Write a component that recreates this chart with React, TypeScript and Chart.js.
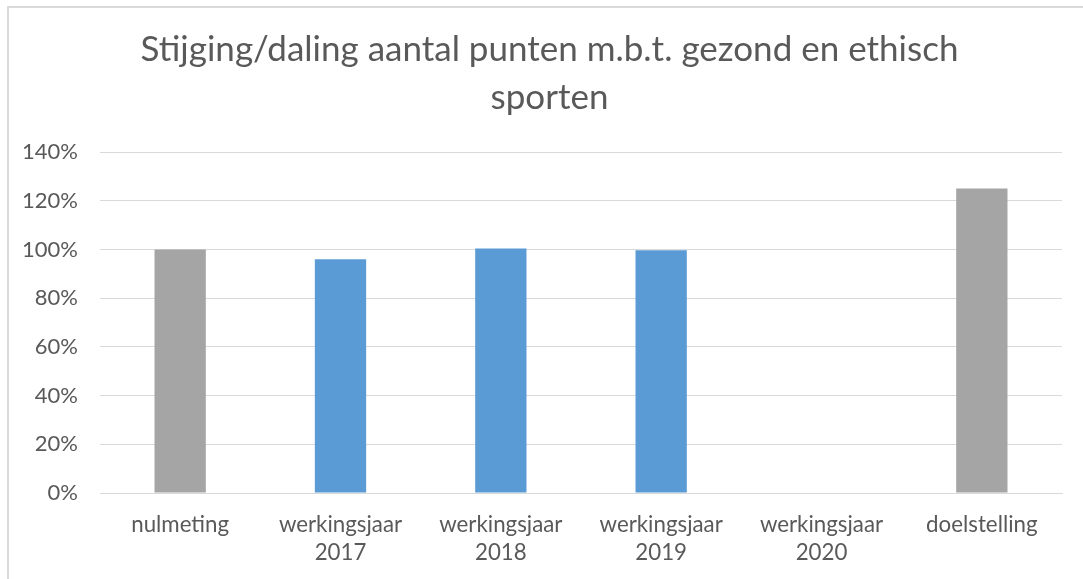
import React, { useEffect, useRef } from "react";
import { Chart, registerables } from "chart.js";

Chart.register(...registerables);

const titleLines = ["Stijging/daling aantal punten m.b.t. gezond en ethisch", "sporten"];
const categories: (string | string[])[] = [
  "nulmeting",
  ["werkingsjaar", "2017"],
  ["werkingsjaar", "2018"],
  ["werkingsjaar", "2019"],
  ["werkingsjaar", "2020"],
  "doelstelling",
];
const values: (number | null)[] = [100, 96, 100.4, 99.7, null, 125];
const barColors = ["#a5a5a5", "#5b9bd5", "#5b9bd5", "#5b9bd5", "#5b9bd5", "#a5a5a5"];
const yTicks = [0, 20, 40, 60, 80, 100, 120, 140];

const FONT = "Lato, 'Open Sans', sans-serif";
const TEXT = "#595959";
const GRID = "#d9d9d9";

// shift the full-width title block so it is centred like the original chart
const titleShift = {
  id: "titleShift",
  afterLayout(chart: any) {
    const t = chart.titleBlock;
    if (t) {
      t.left = 37;
    }
  },
};

export default function App() {
  const ref = useRef<HTMLCanvasElement | null>(null);

  useEffect(() => {
    if (!ref.current) return;
    const chart = new Chart(ref.current, {
      type: "bar",
      data: {
        labels: categories,
        datasets: [
          {
            data: values,
            backgroundColor: barColors,
            borderWidth: 0,
            barPercentage: 0.32,
            categoryPercentage: 1,
          },
        ],
      },
      plugins: [titleShift],
      options: {
        animation: false,
        responsive: false,
        maintainAspectRatio: false,
        layout: { padding: { left: 0, right: 21, top: 0, bottom: 0 } },
        plugins: {
          legend: { display: false },
          tooltip: { enabled: false },
          title: {
            display: true,
            text: titleLines,
            color: TEXT,
            font: { family: FONT, size: 35, weight: "normal", lineHeight: "48px" },
            padding: { top: 26, bottom: 30 },
          },
        },
        scales: {
          x: {
            grid: { display: false, drawTicks: false },
            border: { display: true, color: GRID, width: 1 },
            ticks: {
              color: TEXT,
              font: { family: FONT, size: 22.3, lineHeight: "28px" },
              padding: 18,
              maxRotation: 0,
              autoSkip: false,
            },
            afterFit: (s: any) => {
              s.height = 86;
            },
          },
          y: {
            min: 0,
            max: 140,
            afterBuildTicks: (s: any) => {
              s.ticks = yTicks.map((v) => ({ value: v }));
            },
            grid: { color: GRID, lineWidth: 1, drawTicks: false },
            border: { display: false },
            ticks: {
              color: TEXT,
              font: { family: FONT, size: 22 },
              padding: 22,
              callback: (v: any) => v + "%",
            },
            afterFit: (s: any) => {
              s.width = 100;
            },
          },
        },
      },
    });
    return () => chart.destroy();
  }, []);

  return (
    <div style={{ position: "fixed", left: 0, top: 0, width: 1083, height: 579, background: "#fff" }}>
      <div
        style={{
          position: "absolute",
          left: 7,
          top: 6,
          width: 1200,
          height: 700,
          borderLeft: "2px solid " + GRID,
          borderTop: "2px solid " + GRID,
        }}
      />
      <canvas ref={ref} width={1083} height={579} style={{ position: "absolute", left: 0, top: 0 }} />
    </div>
  );
}
